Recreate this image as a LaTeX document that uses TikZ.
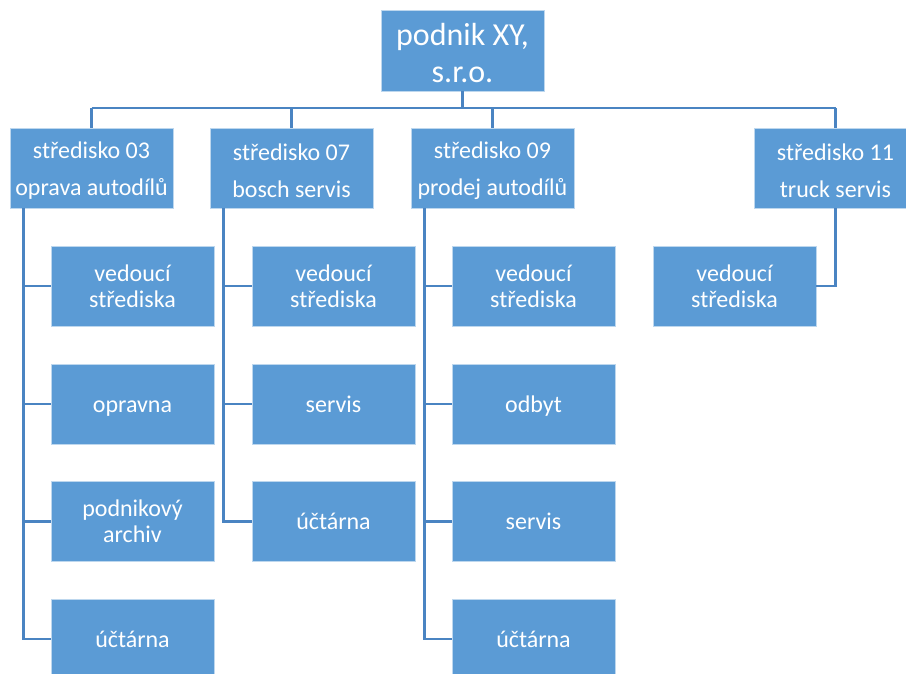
\documentclass[tikz,border=0pt]{standalone}
\usepackage{fontspec}
\setmainfont{Carlito}
\definecolor{boxblue}{RGB}{91,155,213}
\definecolor{lineblue}{RGB}{74,132,194}
\newcommand\oneline[1]{\rule[-6.5pt]{0pt}{29.5pt}#1}
\newcommand\firststrut[1]{\rule{0pt}{#1}}
\begin{document}
\begin{tikzpicture}[x=1pt,y=-1pt,
  box/.style={fill=boxblue,draw=boxblue!40!white,line width=0.8pt,text=white,
    minimum width=163pt,minimum height=80pt,inner sep=0pt,align=center},
  topbox/.style={box,minimum height=81pt,font=\fontsize{32}{37}\selectfont},
  midbox/.style={box,font=\fontsize{24}{37}\selectfont},
  leafbox/.style={box,font=\fontsize{24}{26}\selectfont},
  conn/.style={draw=lineblue,line width=2.8pt}]
\useasboundingbox (0,0) rectangle (906,673);
\clip (0,0) rectangle (906,673);
\coordinate (bus) at (462.5,108);
\node[topbox] (top) at (462.5,50.5) {\firststrut{27pt}podnik XY,\\s.r.o.};
\node[midbox] (s03) at (91.5,168) {\firststrut{22pt}středisko 03\\oprava autodílů};
\node[midbox] (s07) at (291.5,168) {\firststrut{22pt}středisko 07\\bosch servis};
\node[midbox] (s09) at (492.5,168) {\firststrut{22pt}středisko 09\\prodej autodílů};
\node[midbox] (s11) at (835.5,168) {\firststrut{22pt}středisko 11\\truck servis};
\node[leafbox] (c03a) at (132.5,286) {vedoucí\\střediska};
\node[leafbox] (c03b) at (132.5,404) {\oneline{opravna}};
\node[leafbox] (c03c) at (132.5,521.5) {podnikový\\archiv};
\node[leafbox] (c03d) at (132.5,639) {\oneline{účtárna}};
\node[leafbox] (c07a) at (333.5,286) {vedoucí\\střediska};
\node[leafbox] (c07b) at (333.5,404) {\oneline{servis}};
\node[leafbox] (c07c) at (333.5,521.5) {\oneline{účtárna}};
\node[leafbox] (c09a) at (533.5,286) {vedoucí\\střediska};
\node[leafbox] (c09b) at (533.5,404) {\oneline{odbyt}};
\node[leafbox] (c09c) at (533.5,521.5) {\oneline{servis}};
\node[leafbox] (c09d) at (533.5,639) {\oneline{účtárna}};
\node[leafbox] (c11a) at (734.5,286) {vedoucí\\střediska};
\draw[conn] (top.south) -- (bus);
\draw[conn] (s03.north |- bus) -- (s11.north |- bus);
\foreach \n in {s03,s07,s09,s11} \draw[conn] (\n.north |- bus) -- (\n.north);
\coordinate (r03) at ([xshift=14pt]s03.south west);
\coordinate (r07) at ([xshift=14pt]s07.south west);
\coordinate (r09) at ([xshift=14pt]s09.south west);
\draw[conn] (r03) |- (c03d.west);
\foreach \c in {c03a,c03b,c03c} \draw[conn] (r03 |- \c.west) -- (\c.west);
\draw[conn] (r07) |- (c07c.west);
\foreach \c in {c07a,c07b} \draw[conn] (r07 |- \c.west) -- (\c.west);
\draw[conn] (r09) |- (c09d.west);
\foreach \c in {c09a,c09b,c09c} \draw[conn] (r09 |- \c.west) -- (\c.west);
\draw[conn] (s11.south) |- (c11a.east);
\end{tikzpicture}
\end{document}
